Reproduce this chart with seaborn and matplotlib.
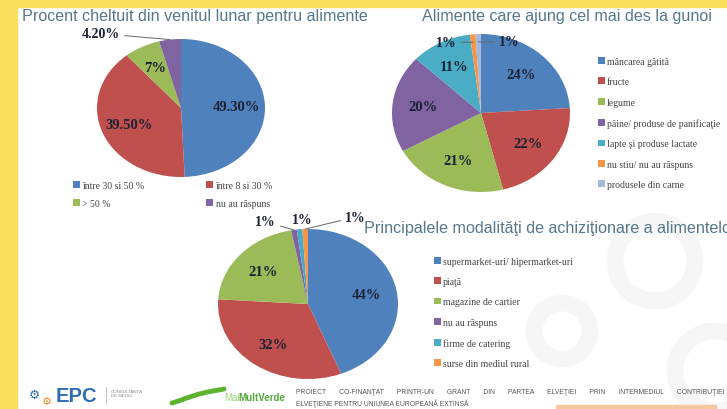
import numpy as np
import seaborn as sns
import matplotlib.pyplot as plt
from matplotlib.patches import Rectangle, Circle

# --- data ---
spend_labels = ['între 30 si 50 %', 'între 8 si 30 %', '> 50 %', 'nu au răspuns']
spend_values = [49.3, 39.5, 7.0, 4.2]
spend_pct = ['49.30%', '39.50%', '7%', '4.20%']

waste_labels = ['mâncarea gătită', 'fructe', 'legume', 'pâine/ produse de panificaţie',
                'lapte şi produse lactate', 'nu stiu/ nu au răspuns', 'produsele din carne']
waste_values = [24, 22, 21, 20, 11, 1, 1]
waste_pct = ['24%', '22%', '21%', '20%', '11%', '1%', '1%']

buy_labels = ['supermarket-uri/ hipermarket-uri', 'piaţă', 'magazine de cartier',
              'nu au răspuns', 'firme de catering', 'surse din mediul rural']
buy_values = [44, 32, 21, 1, 1, 1]
buy_pct = ['44%', '32%', '21%', '1%', '1%', '1%']

titles = ['Procent cheltuit din venitul lunar pentru alimente',
          'Alimente care ajung cel mai des la gunoi',
          'Principalele modalităţi de achiziţionare a alimentelor']

footer_1 = 'PROIECT CO-FINANŢAT PRINTR-UN GRANT DIN PARTEA ELVEŢIEI PRIN INTERMEDIUL CONTRIBUŢIEI'
footer_2 = 'ELVEŢIENE PENTRU UNIUNEA EUROPEANĂ EXTINSĂ'

# --- style ---
office = ['#4F81BD', '#C0504D', '#9BBB59', '#8064A2', '#4BACC6', '#F79646', '#A5B9DB']
YELLOW = '#FADF5E'
TITLE_C = '#56788A'
LABEL_C = '#1C2233'
LEGEND_C = '#454545'
W, H = 727, 410

sns.set_theme(style='white')
plt.rcParams['font.family'] = ['Liberation Sans', 'DejaVu Sans']
SERIF = ['Liberation Serif', 'DejaVu Serif']


def box(x, y, w, h):
    return [x / W, 1 - (y + h) / H, w / W, h / H]


def fx(x):
    return x / W


def fy(y):
    return 1 - y / H


def draw_pie(fig, cx, cy, rx, ry, values, colors, pct, outside, pctdist=0.66):
    ax = fig.add_axes(box(cx - rx, cy - ry, 2 * rx, 2 * ry))
    wedges, _ = ax.pie(values, colors=colors, startangle=90, counterclock=False,
                       wedgeprops=dict(linewidth=0))
    ax.set_aspect('auto')
    ax.set_xlim(-1, 1)
    ax.set_ylim(-1, 1)
    ax.axis('off')
    for i, w in enumerate(wedges):
        mid = np.deg2rad((w.theta1 + w.theta2) / 2)
        c, s = np.cos(mid), np.sin(mid)
        if i in outside:
            (dx, dy), ha, r = outside[i]
            ax.annotate(pct[i], xy=(r * c, r * s), xytext=(dx, dy), textcoords='offset pixels',
                        ha=ha, va='center', fontsize=10, fontweight='bold', family=SERIF,
                        color=LABEL_C, annotation_clip=False,
                        arrowprops=dict(arrowstyle='-', color='#666666', lw=0.7,
                                        shrinkA=1, shrinkB=0))
        else:
            ax.text(pctdist * c, pctdist * s, pct[i], ha='center', va='center',
                    fontsize=10.5, fontweight='bold', family=SERIF, color=LABEL_C)
    return ax, wedges


fig = plt.figure(figsize=(W / 100, H / 100), dpi=100)
fig.patch.set_facecolor('white')

# faint gear watermark on the right
for (gx, gy, gr) in [(655, 262, 40), (715, 372, 40), (562, 332, 28)]:
    fig.add_artist(Circle((gx / 100, (H - gy) / 100), gr / 100, transform=fig.dpi_scale_trans,
                          facecolor='none', edgecolor='#F6F6F6', lw=12, zorder=0))

# yellow slide border
fig.add_artist(Rectangle((0, 0), 17 / W, 1, transform=fig.transFigure, color=YELLOW, zorder=5))
fig.add_artist(Rectangle((0, fy(8)), 1, 8 / H, transform=fig.transFigure, color=YELLOW, zorder=5))

# --- chart 1 ---
_, w1 = draw_pie(fig, 181, 109, 84, 69, spend_values, office[:4], spend_pct,
                 {3: ((-50, 6), 'right', 1.0)})
fig.text(fx(22), fy(17), titles[0], ha='left', va='center', fontsize=11.6, color=TITLE_C)
order = [0, 2, 1, 3]
fig.legend([w1[i] for i in order], [spend_labels[i] for i in order], loc='upper left',
           bbox_to_anchor=(fx(64), fy(173)), ncol=2, frameon=False,
           handlelength=0.7, handleheight=0.7, handletextpad=0.25, columnspacing=6.4,
           labelspacing=0.95, labelcolor=LEGEND_C, prop={'family': SERIF, 'size': 7})

# --- chart 2 ---
_, w2 = draw_pie(fig, 481, 114, 89, 79, waste_values, office[:7], waste_pct,
                 {5: ((-17, 0), 'right', 0.9), 6: ((20, 0), 'left', 0.9)})
fig.text(fx(567), fy(17), titles[1], ha='center', va='center', fontsize=11.6, color=TITLE_C)
fig.legend(w2, waste_labels, loc='upper left', bbox_to_anchor=(fx(589), fy(49)),
           frameon=False, handlelength=0.7, handleheight=0.7, handletextpad=0.25,
           labelspacing=1.18, labelcolor=LEGEND_C, prop={'family': SERIF, 'size': 7})

# --- chart 3 ---
_, w3 = draw_pie(fig, 308, 305, 90, 75, buy_values, office[:6], buy_pct,
                 {3: ((-18, 8), 'right', 1.0), 4: ((3, 10), 'center', 1.0),
                  5: ((40, 12), 'left', 1.0)})
fig.text(fx(364), fy(229), titles[2], ha='left', va='center', fontsize=11.6, color=TITLE_C)
fig.legend(w3, buy_labels, loc='upper left', bbox_to_anchor=(fx(425), fy(249)),
           frameon=False, handlelength=0.7, handleheight=0.7, handletextpad=0.25,
           labelspacing=1.16, labelcolor=LEGEND_C, prop={'family': SERIF, 'size': 7})

# --- footer ---
fig.text(fx(29), fy(395), '⚙', color='#2E6DB4', fontsize=9, ha='left', va='center',
         family=['DejaVu Sans'])
fig.text(fx(42), fy(402), '⚙', color='#F08A24', fontsize=8, ha='left', va='center',
         family=['DejaVu Sans'])
fig.text(fx(56), fy(397), 'EPC', color='#2E6DB4', fontsize=14.5, fontweight='bold',
         ha='left', va='center')
fig.add_artist(plt.Line2D([fx(106), fx(106)], [fy(388), fy(405)], transform=fig.transFigure,
                          color='#BBBBBB', lw=0.6))
fig.text(fx(111), fy(394), 'CONSULTANŢĂ\nDE MEDIU', color='#888888', fontsize=3.2,
         ha='left', va='center', linespacing=1.1)
tt = np.linspace(0, 1, 40)
fig.add_artist(plt.Line2D(fx(172 + 52 * tt), fy(404 - 14 * tt ** 1.6 - 4 * np.sin(np.pi * tt)),
                          transform=fig.transFigure, color='#5DB32E', lw=3.5,
                          solid_capstyle='round'))
fig.text(fx(224), fy(398), 'Mai', color='#9FD37A', fontsize=7, ha='left', va='center')
fig.text(fx(238), fy(398), 'MultVerde', color='#56A83A', fontsize=7, fontweight='bold',
         ha='left', va='center')
fig.text(fx(296), fy(393), '       '.join(footer_1.split(' ')), color='#555555', fontsize=4.9,
         ha='left', va='center')
fig.text(fx(296), fy(404), footer_2, color='#555555', fontsize=4.9, ha='left', va='center')
fig.add_artist(Rectangle((fx(556), 0), 160 / W, 4 / H, transform=fig.transFigure,
                         color='#F6C8A0'))

fig.savefig('out.png', dpi=100, facecolor='white')
